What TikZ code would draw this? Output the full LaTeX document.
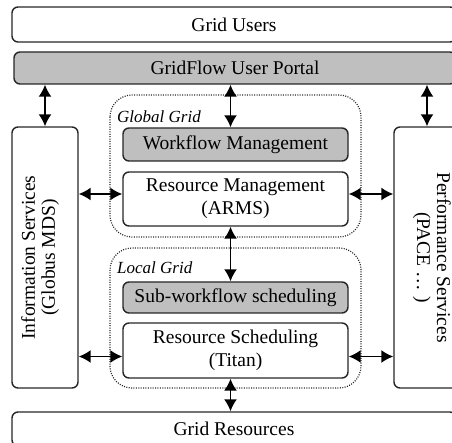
\documentclass[tikz,border=0pt]{standalone}
\usepackage{fontspec}
\setmainfont{Liberation Serif}
\usetikzlibrary{arrows.meta}

\begin{document}
\begin{tikzpicture}[
  x=1pt, y=-1pt,
  box/.style={draw=black!85, line width=1.4pt, rounded corners=6pt, inner sep=0pt,
    font=\fontsize{19.5}{23}\selectfont, align=center},
  shaded/.style={box, fill=black!25},
  gridarea/.style={draw=black!85, line width=1.2pt, dash pattern=on 1pt off 1.4pt, rounded corners=22pt},
  arealabel/.style={font=\fontsize{17}{20}\selectfont\itshape, anchor=west, inner sep=0pt},
  dbl/.style={{Latex[length=12pt,width=13pt]}-{Latex[length=12pt,width=13pt]}, line width=1.6pt},
]
\useasboundingbox (0,0) rectangle (452,443);
\clip (0,0) rectangle (452,443);

% top and bottom layers
\node [box, minimum width=444pt, minimum height=35pt] (users) at (234,24.5) {Grid Users};
\node [shaded, minimum width=442pt, minimum height=32pt] (portal) at (235,68) {GridFlow User Portal};
\node [box, minimum width=444pt, minimum height=34pt] (res) at (234,429) {Grid Resources};

% side services
\node [box, minimum width=66pt, minimum height=261pt] (info) at (45,257.5) {};
\node [rotate=90, font=\fontsize{19.5}{20}\selectfont, align=center] (infotext) at (40,257.5)
  {Information Services\\(Globus MDS)};
\node [box, minimum width=66pt, minimum height=261pt] (perf) at (427,257.5) {};
\node [rotate=-90, font=\fontsize{19.5}{20}\selectfont, align=center] (perftext) at (432,257.5)
  {Performance Services\\(PACE \ldots\ )};

% global grid
\draw [gridarea] (110,95) rectangle (361,237);
\node [arealabel] (globallabel) at (117,117) {Global Grid};
\node [shaded, minimum width=225pt, minimum height=33pt] (wfm) at (235.5,144.5) {Workflow Management};
\node [box, minimum width=225pt, minimum height=54pt] (rm) at (235.5,199) {Resource Management\\(ARMS)};

% local grid
\draw [gridarea] (110,248) rectangle (361,388);
\node [arealabel] (locallabel) at (117,268) {Local Grid};
\node [shaded, minimum width=225pt, minimum height=31pt] (sws) at (235.5,297.5) {Sub-workflow scheduling};
\node [box, minimum width=225pt, minimum height=55pt] (rs) at (235.5,350.5) {Resource Scheduling\\(Titan)};

% arrow ends
\coordinate (spine) at ([xshift=-5pt]wfm.north);
\coordinate (rmin) at ([yshift=5pt]rm.west);
\coordinate (rmout) at ([yshift=5pt]rm.east);
\coordinate (rsin) at ([yshift=-6pt]rs.west);
\coordinate (rsout) at ([yshift=-6pt]rs.east);

% connectors
\draw [dbl] (info.north |- portal.south) -- (info.north);
\draw [dbl] (spine |- portal.south) -- (spine);
\draw [dbl] (perf.north |- portal.south) -- (perf.north);
\draw [dbl] (info.east |- rmin) -- (rmin);
\draw [dbl] (rmout) -- (perf.west |- rmout);
\draw [dbl] (spine |- rm.south) -- (spine |- sws.north);
\draw [dbl] (info.east |- rsin) -- (rsin);
\draw [dbl] (rsout) -- (perf.west |- rsout);
\draw [dbl] (spine |- rs.south) -- (spine |- res.north);
\end{tikzpicture}
\end{document}
